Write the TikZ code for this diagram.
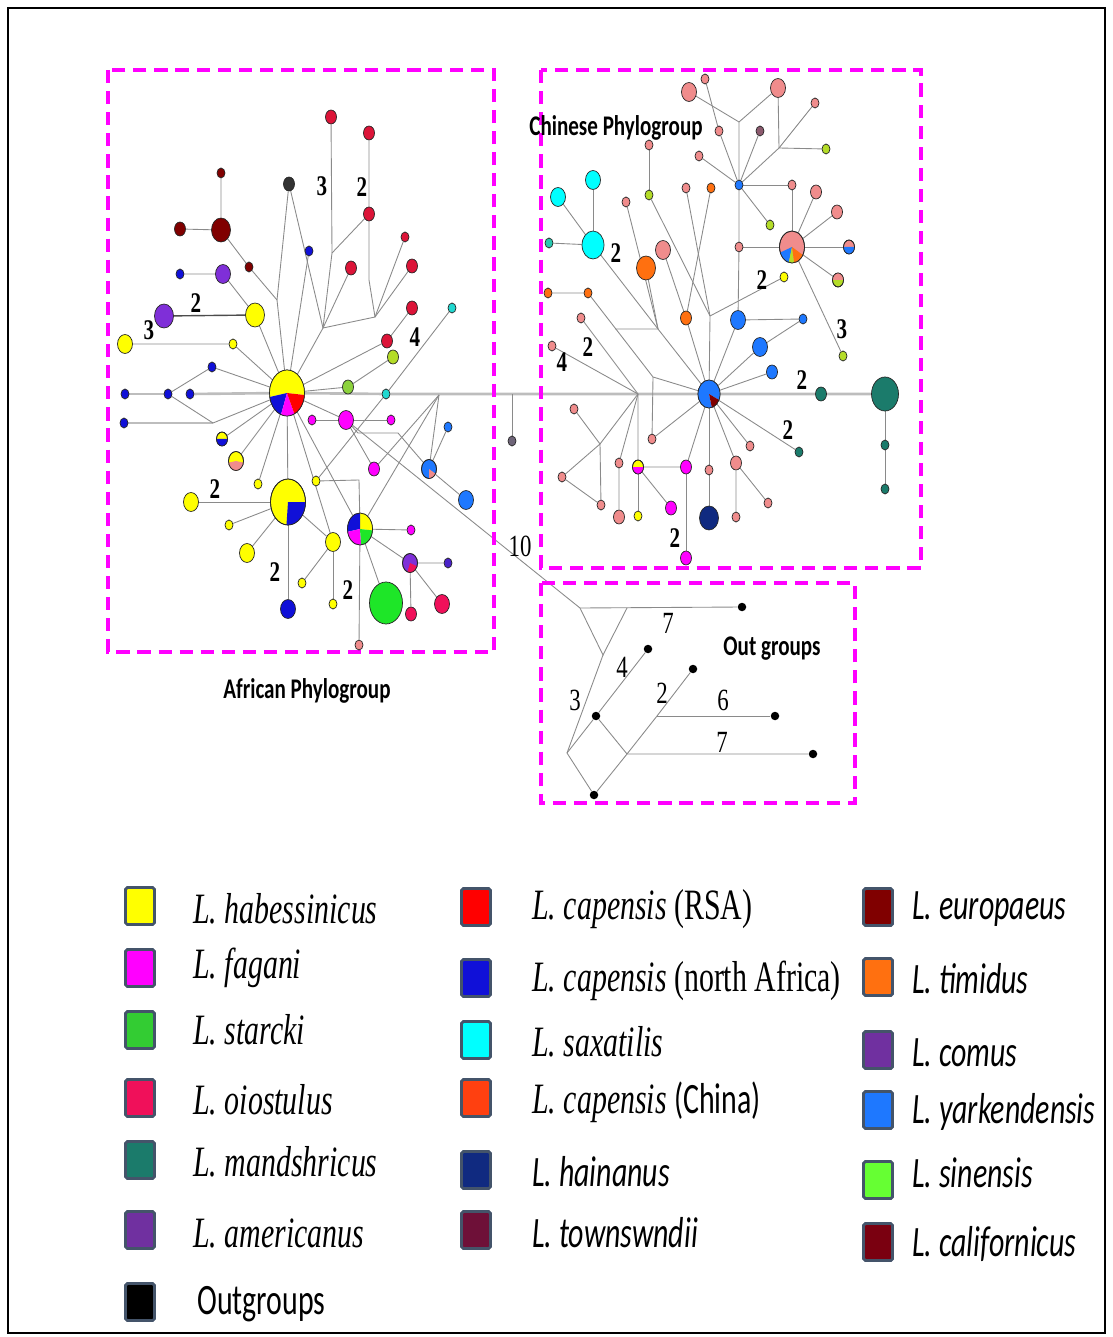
\documentclass[tikz,border=0pt]{standalone}
\usepackage{fontspec}
\usepackage{graphicx}
\setmainfont{Liberation Serif}
\newfontfamily\calibri{Carlito}
\usetikzlibrary{shapes.geometric}
\pgfdeclarelayer{background}
\pgfsetlayers{background,main}

\definecolor{habyel}{HTML}{FFFF00}
\definecolor{fagmag}{HTML}{FF00FF}
\definecolor{stagrn}{HTML}{33CC33}
\definecolor{oiored}{HTML}{F0105A}
\definecolor{mandteal}{HTML}{1B7B6B}
\definecolor{amerpur}{HTML}{7030A0}
\definecolor{caprsa}{HTML}{FF0000}
\definecolor{capna}{HTML}{1010D8}
\definecolor{saxcyan}{HTML}{00FFFF}
\definecolor{capchn}{HTML}{FF4010}
\definecolor{hainavy}{HTML}{102A80}
\definecolor{towmar}{HTML}{6E1038}
\definecolor{europ}{HTML}{800000}
\definecolor{timorg}{HTML}{FF7010}
\definecolor{comus}{HTML}{7030A0}
\definecolor{yark}{HTML}{1E78FF}
\definecolor{sinlgr}{HTML}{66FF33}
\definecolor{calif}{HTML}{7A0010}
\definecolor{redsm}{HTML}{DC1438}
\definecolor{cyansm}{HTML}{20D8D0}
\definecolor{ygreen}{HTML}{B4DC28}
\definecolor{lgreen}{HTML}{8CD23C}
\definecolor{violet2}{HTML}{7F2FD8}
\definecolor{indigo2}{HTML}{4A22C8}
\definecolor{brgreen}{HTML}{1EE628}
\definecolor{towgray}{HTML}{6E6478}
\definecolor{hapsalmon}{HTML}{F08C8C}
\definecolor{mauve}{HTML}{8C5A6E}
\definecolor{tealcyan}{HTML}{28C8B0}
\definecolor{edgegray}{HTML}{8A8A8A}
\definecolor{spinegray}{HTML}{BDBDBD}
\definecolor{pinkbox}{HTML}{FF00FF}
\definecolor{legframe}{HTML}{44546A}

\tikzset{
  hap/.style={ellipse, draw=black!85, line width=0.4pt, inner sep=0pt},
  hxs/.style={hap, minimum width=0.16cm, minimum height=0.2cm},
  hsm/.style={hap, minimum width=0.22cm, minimum height=0.28cm},
  hmd/.style={hap, minimum width=0.3cm, minimum height=0.38cm},
  hlg/.style={hap, minimum width=0.38cm, minimum height=0.48cm},
  hxl/.style={hap, minimum width=0.44cm, minimum height=0.56cm},
  hmid/.style={hap, minimum width=0.5cm, minimum height=0.64cm},
  hhub/.style={hap, minimum width=0.7cm, minimum height=0.92cm},
  outdot/.style={circle, fill=black, inner sep=0pt, minimum size=0.17cm},
  link/.style={draw=edgegray, line width=0.5pt},
  spine/.style={draw=spinegray, line width=1.5pt},
  mut/.style={font=\bfseries\fontsize{12}{14}\selectfont, inner sep=0pt},
  ogn/.style={font=\fontsize{13}{15}\selectfont, inner sep=0pt},
  grpbox/.style={draw=pinkbox, line width=2.3pt, dash pattern=on 7.5pt off 4.5pt},
  grptitle/.style={font=\calibri\bfseries\fontsize{12}{14}\selectfont, inner sep=0pt},
  legbox/.style={draw=legframe, line width=1.6pt, rounded corners=1pt, minimum width=0.58cm, minimum height=0.74cm, inner sep=0pt},
  legtxt/.style={anchor=west, font=\fontsize{17}{20}\selectfont, inner sep=0pt},
}

\newcommand{\hapslice}[6]{\fill[#2] (#1.center) -- ++(#3:#5 and #6) arc[start angle=#3, end angle=#4, x radius=#5, y radius=#6] -- cycle;}
\newcommand{\hapring}[3]{\draw[black!85, line width=0.4pt] (#1.center) ellipse [x radius=#2, y radius=#3];}
\newcommand{\tallt}[1]{\scalebox{1}[1.45]{#1}}
\newcommand{\mnum}[1]{\scalebox{1}[1.35]{#1}}

\begin{document}
\begin{tikzpicture}[x=0.02cm, y=-0.02cm]
\useasboundingbox (0,0) rectangle (1112,1337);
\draw[line width=1.2pt] (8,8) rectangle (1105,1333);

% group boxes
\draw[grpbox] (108,70) rectangle (494,652);
\draw[grpbox] (541,70) rectangle (921,568);
\draw[grpbox] (541,583) rectangle (855,803);

\node[grptitle] (tAfr) at (307,691) {\mnum{African Phylogroup}};
\node[grptitle] (tChn) at (616,128) {\mnum{Chinese Phylogroup}};
\node[grptitle] (tOut) at (772,649) {\mnum{Out groups}};

% African phylogroup
\node[hhub] (aH1) at (287,393) {};
\node[hhub, fill=habyel] (aH2) at (288,502) {};
\node[hmid] (aH3) at (360,529) {};
\node[hsm, fill=redsm] (a1) at (331,117) {};
\node[hsm, fill=redsm] (a2) at (369,133) {};
\node[hsm, fill=redsm] (a3) at (369,214) {};
\node[hxs, fill=redsm] (a4) at (405,237) {};
\node[hsm, fill=redsm] (a5) at (412,266) {};
\node[hsm, fill=redsm] (a6) at (351,268) {};
\node[hsm, fill=redsm] (a7) at (412,308) {};
\node[hsm, fill=redsm] (a8) at (387,341) {};
\node[hxs, fill=cyansm] (a9) at (452,308) {};
\node[hsm, fill=ygreen] (a10) at (393,357) {};
\node[hsm, fill=lgreen] (a11) at (348,387) {};
\node[hxs, fill=cyansm] (a12) at (386,394) {};
\node[hsm, fill=black!80] (a13) at (289,184) {};
\node[hxs, fill=capna] (a14) at (309,251) {};
\node[hxs, fill=europ] (a15) at (221,173) {};
\node[hlg, fill=europ] (a16) at (221,230) {};
\node[hsm, fill=europ] (a17) at (180,229) {};
\node[hxs, fill=europ] (a18) at (249,267) {};
\node[hmd, fill=violet2] (a19) at (223,274) {};
\node[hxs, fill=capna] (a20) at (180,274) {};
\node[hlg, fill=violet2] (a21) at (164,316) {};
\node[hlg, fill=habyel] (a22) at (255,315) {};
\node[hmd, fill=habyel] (a23) at (125,344) {};
\node[hxs, fill=habyel] (a24) at (233,344) {};
\node[hxs, fill=capna] (a25) at (212,367) {};
\node[hxs, fill=capna] (a26) at (125,394) {};
\node[hxs, fill=capna] (a27) at (168,394) {};
\node[hxs, fill=capna] (a28) at (190,394) {};
\node[hxs, fill=capna] (a29) at (124,423) {};
\node[hsm, fill=habyel] (a30) at (222,439) {};
\node[hmd, fill=habyel] (a31) at (236,461) {};
\node[hxs, fill=habyel] (a32) at (258,484) {};
\node[hxs, fill=fagmag] (a33) at (312,420) {};
\node[hmd, fill=fagmag] (a34) at (346,420) {};
\node[hxs, fill=fagmag] (a35) at (391,420) {};
\node[hxs, fill=habyel] (a36) at (316,481) {};
\node[hsm, fill=fagmag] (a37) at (374,469) {};
\node[hxs, fill=yark] (a38) at (448,427) {};
\node[hmd, fill=yark] (a39) at (429,469) {};
\node[hmd, fill=yark] (a40) at (466,500) {};
\node[hmd, fill=habyel] (a41) at (191,502) {};
\node[hxs, fill=habyel] (a42) at (229,525) {};
\node[hmd, fill=habyel] (a43) at (247,553) {};
\node[hmd, fill=capna] (a44) at (288,609) {};
\node[hmd, fill=habyel] (a45) at (333,542) {};
\node[hxs, fill=habyel] (a46) at (302,583) {};
\node[hxs, fill=habyel] (a47) at (333,604) {};
\node[hxs, fill=fagmag] (a48) at (411,530) {};
\node[hmd, fill=violet2] (a49) at (410,563) {};
\node[hxs, fill=indigo2] (a50) at (448,563) {};
\node[hap, fill=brgreen, minimum width=0.66cm, minimum height=0.84cm] (a51) at (386,603) {};
\node[hsm, fill=oiored] (a52) at (411,614) {};
\node[hmd, fill=oiored] (a53) at (442,604) {};
\node[hxs, fill=hapsalmon] (a54) at (359,645) {};
\node[hxs, fill=towgray] (a55) at (512,441) {};

\coordinate (j1) at (323,328);
\coordinate (j2) at (375,317);
\coordinate (k1) at (332,253);
\coordinate (k2) at (369,280);
\coordinate (j3) at (277,300);
\coordinate (j4) at (213,423);
\coordinate (j5) at (359,480);
\coordinate (j6) at (439,395);
\coordinate (j7) at (512,394);
\coordinate (j8) at (358,433);
\coordinate (j9) at (398,433);

% Chinese phylogroup
\node[hxl] (cH) at (709,394) {};
\node[hmid, fill=hapsalmon] (cP) at (792,247) {};
\node[hxs, fill=hapsalmon] (c1) at (705,79) {};
\node[hmd, fill=hapsalmon] (c2) at (689,92) {};
\node[hmd, fill=hapsalmon] (c3) at (778,88) {};
\node[hxs, fill=hapsalmon] (c4) at (815,103) {};
\node[hxs, fill=hapsalmon] (c5) at (719,131) {};
\node[hxs, fill=mauve] (c6) at (760,131) {};
\node[hxs, fill=ygreen] (c7) at (826,149) {};
\node[hxs, fill=hapsalmon] (c8) at (699,156) {};
\node[hxs, fill=yark] (c9) at (739,185) {};
\node[hxs, fill=hapsalmon] (c10) at (792,185) {};
\node[hxs, fill=ygreen] (c11) at (770,225) {};
\node[hxs, fill=hapsalmon] (c12) at (739,247) {};
\node[hsm, fill=hapsalmon] (c13) at (816,192) {};
\node[hsm, fill=hapsalmon] (c14) at (837,212) {};
\node[hsm, fill=hapsalmon] (c15) at (849,247) {};
\node[hsm, fill=ygreen] (c16) at (838,280) {};
\node[hxs, fill=habyel] (c17) at (784,277) {};
\node[hxs, fill=ygreen] (c18) at (843,356) {};
\node[hmd, fill=saxcyan] (c19) at (593,180) {};
\node[hmd, fill=saxcyan] (c20) at (558,197) {};
\node[hxl, fill=saxcyan] (c21) at (593,245) {};
\node[hxs, fill=tealcyan] (c22) at (549,243) {};
\node[hxs, fill=hapsalmon] (c23) at (649,145) {};
\node[hxs, fill=ygreen] (c24) at (649,195) {};
\node[hxs, fill=hapsalmon] (c25) at (626,202) {};
\node[hxs, fill=hapsalmon] (c26) at (686,188) {};
\node[hxs, fill=timorg] (c27) at (711,188) {};
\node[hmd, fill=hapsalmon] (c28) at (663,250) {};
\node[hlg, fill=timorg] (c29) at (646,268) {};
\node[hsm, fill=timorg] (c30) at (686,318) {};
\node[hxs, fill=timorg] (c31) at (548,293) {};
\node[hxs, fill=timorg] (c32) at (588,293) {};
\node[hxs, fill=hapsalmon] (c33) at (581,318) {};
\node[hxs, fill=hapsalmon] (c34) at (552,346) {};
\node[hmd, fill=yark] (c35) at (738,320) {};
\node[hxs, fill=yark] (c36) at (803,319) {};
\node[hmd, fill=yark] (c37) at (760,347) {};
\node[hsm, fill=yark] (c38) at (772,372) {};
\node[hsm, fill=mandteal] (c39) at (821,394) {};
\node[hap, fill=mandteal, minimum width=0.54cm, minimum height=0.68cm] (c40) at (885,394) {};
\node[hxs, fill=mandteal] (c41) at (885,445) {};
\node[hxs, fill=mandteal] (c42) at (885,489) {};
\node[hxs, fill=mandteal] (c43) at (799,452) {};
\node[hxs, fill=hapsalmon] (c44) at (750,446) {};
\node[hsm, fill=hapsalmon] (c45) at (736,463) {};
\node[hxs, fill=hapsalmon] (c46) at (736,517) {};
\node[hxs, fill=hapsalmon] (c47) at (768,503) {};
\node[hxs, fill=hapsalmon] (c48) at (709,470) {};
\node[hlg, fill=hainavy] (c49) at (709,518) {};
\node[hsm, fill=fagmag] (c50) at (686,467) {};
\node[hsm, fill=fagmag] (c51) at (686,558) {};
\node[hsm, fill=habyel] (c52) at (638,467) {};
\node[hxs, fill=habyel] (c53) at (638,516) {};
\node[hsm, fill=fagmag] (c54) at (671,508) {};
\node[hxs, fill=hapsalmon] (c55) at (619,463) {};
\node[hsm, fill=hapsalmon] (c56) at (619,517) {};
\node[hxs, fill=hapsalmon] (c57) at (652,439) {};
\node[hxs, fill=hapsalmon] (c58) at (574,409) {};
\node[hxs, fill=hapsalmon] (c59) at (562,477) {};
\node[hxs, fill=hapsalmon] (c60) at (601,505) {};

\coordinate (q1) at (739,122);
\coordinate (q2) at (779,148);
\coordinate (q3) at (710,316);
\coordinate (q4) at (658,329);
\coordinate (q5) at (615,329);
\coordinate (q6) at (653,377);
\coordinate (q7) at (638,394);
\coordinate (q8) at (600,444);

% out groups
\node[outdot] (ob1) at (742,607) {};
\node[outdot] (ob2) at (648,649) {};
\node[outdot] (ob3) at (596,716) {};
\node[outdot] (ob4) at (693,669) {};
\node[outdot] (ob5) at (775,716) {};
\node[outdot] (ob6) at (813,754) {};
\node[outdot] (ob7) at (594,795) {};
\coordinate (o1) at (580,608);
\coordinate (o2) at (627,608);
\coordinate (o3) at (603,655);
\coordinate (o4) at (657,716);
\coordinate (o5) at (627,754);
\coordinate (o6) at (567,753);

\begin{pgfonlayer}{background}
\draw[spine] (aH1) -- (a12) -- (q7) -- (cH) -- (c39) -- (c40);
\draw[spine] (a28) -- (aH1);
\draw[spine] (a26) -- (a27);
\draw[spine] (a29) -- (j4);
\draw[link] (aH1) -- (j1) -- (k1) -- (a1);
\draw[link] (k1) -- (a3);
\draw[link] (j1) -- (a6);
\draw[link] (j1) -- (j2) -- (k2) -- (a2);
\draw[link] (j2) -- (a4);
\draw[link] (j2) -- (a5);
\draw[link] (a13) -- (j3) -- (aH1);
\draw[link] (a13) -- (j1);
\draw[link] (j3) -- (a18) -- (a16) -- (a15);
\draw[link] (a17) -- (a16);
\draw[link] (a14) -- (aH1);
\draw[link] (a20) -- (a19) -- (a22) -- (aH1);
\draw[link, draw=black!70, line width=0.8pt] (a21) -- (a22);
\draw[link] (a23) -- (a24) -- (aH1);
\draw[link] (aH1) -- (a8) -- (a7);
\draw[link] (aH1) -- (a11) -- (a10);
\draw[link] (a9) -- (a12) -- (a36);
\draw[link] (aH1) -- (a25) -- (a27) -- (j4) -- (aH1);
\draw[link] (aH1) -- (a30);
\draw[link] (aH1) -- (a31);
\draw[link] (aH1) -- (a32);
\draw[link] (aH1) -- (aH2);
\draw[link] (a33) -- (a34) -- (a35);
\draw[link] (aH1) -- (a34) -- (a37);
\draw[link] (aH1) -- (a45);
\draw[link] (aH1) -- (aH3);
\draw[link] (aH2) -- (a41);
\draw[link] (aH2) -- (a42);
\draw[link] (aH2) -- (a43);
\draw[link] (aH2) -- (a44);
\draw[link] (aH2) -- (a45) -- (a46);
\draw[link] (a45) -- (a47);
\draw[link] (a36) -- (j5) -- (aH3) -- (a54);
\draw[link] (j6) -- (aH3);
\draw[link] (j6) -- (a37);
\draw[link] (j6) -- (a39);
\draw[link] (a34) -- (j8) -- (j9) -- (a39) -- (a40);
\draw[link] (a39) -- (a38);
\draw[link] (aH3) -- (a48);
\draw[link] (aH3) -- (a51);
\draw[link] (aH3) -- (a49) -- (a50);
\draw[link] (a49) -- (a52);
\draw[link] (a49) -- (a53);
\draw[link] (a55) -- (j7);
% Chinese links
\draw[link] (c2) -- (q1) -- (c9);
\draw[link] (c3) -- (q1);
\draw[link] (c3) -- (q2) -- (c9);
\draw[link] (c4) -- (q2) -- (c7);
\draw[link] (c1) -- (c5) -- (c9);
\draw[link] (c6) -- (c9);
\draw[link] (c8) -- (c9);
\draw[link] (c9) -- (c10) -- (cP);
\draw[link] (c9) -- (c11);
\draw[link] (c9) -- (c12) -- (c35) -- (cH);
\draw[link] (c12) -- (cP);
\draw[link] (cP) -- (c13);
\draw[link] (cP) -- (c14);
\draw[link] (cP) -- (c15);
\draw[link] (cP) -- (c16);
\draw[link] (cP) -- (c18);
\draw[link] (c35) -- (c36) -- (c37) -- (cH);
\draw[link] (c38) -- (cH);
\draw[link] (q3) -- (cH);
\draw[link] (q3) -- (c17);
\draw[link] (c26) -- (q3);
\draw[link] (c24) -- (q3);
\draw[link] (c23) -- (c24);
\draw[link] (c27) -- (c30) -- (cH);
\draw[link] (c28) -- (c30);
\draw[link] (c19) -- (c21);
\draw[link] (c20) -- (c21);
\draw[link] (c22) -- (c21);
\draw[link] (c21) -- (q4) -- (cH);
\draw[link] (c29) -- (q4);
\draw[link] (c25) -- (q4) -- (q5);
\draw[link] (c31) -- (c32) -- (q6) -- (cH);
\draw[link] (q6) -- (c57) -- (cH);
\draw[link] (c33) -- (q7);
\draw[link] (c34) -- (q7);
\draw[link] (q7) -- (c55) -- (c56);
\draw[link] (q7) -- (c52) -- (c50) -- (cH);
\draw[link] (c52) -- (c53);
\draw[link] (c52) -- (c54);
\draw[link] (c50) -- (c51);
\draw[link] (q7) -- (q8) -- (c58);
\draw[link] (q8) -- (c59) -- (c60) -- (q8);
\draw[link] (cH) -- (c48) -- (c49);
\draw[link] (cH) -- (c45) -- (c46);
\draw[link] (c45) -- (c47);
\draw[link] (cH) -- (c44);
\draw[link] (cH) -- (c43);
\draw[link] (c40) -- (c41) -- (c42);
% out group links
\draw[link] (a34) -- (o1) -- (ob1);
\draw[link] (o1) -- (o3) -- (o2);
\draw[link] (o3) -- (o6) -- (ob7);
\draw[link] (ob2) -- (ob3) -- (o6);
\draw[link] (ob3) -- (o5) -- (ob6);
\draw[link] (ob4) -- (o4) -- (o5) -- (ob7);
\draw[link] (o4) -- (ob5);
\end{pgfonlayer}

% pie haplotypes
\hapslice{aH1}{habyel}{-5}{190}{0.35cm}{0.46cm}
\hapslice{aH1}{capna}{190}{250}{0.35cm}{0.46cm}
\hapslice{aH1}{fagmag}{250}{295}{0.35cm}{0.46cm}
\hapslice{aH1}{caprsa}{295}{355}{0.35cm}{0.46cm}
\hapring{aH1}{0.35cm}{0.46cm}
\hapslice{aH2}{capna}{-95}{0}{0.35cm}{0.46cm}
\hapring{aH2}{0.35cm}{0.46cm}
\hapslice{aH3}{habyel}{-5}{90}{0.25cm}{0.32cm}
\hapslice{aH3}{capna}{90}{190}{0.25cm}{0.32cm}
\hapslice{aH3}{fagmag}{190}{275}{0.25cm}{0.32cm}
\hapslice{aH3}{brgreen}{275}{355}{0.25cm}{0.32cm}
\hapring{aH3}{0.25cm}{0.32cm}
\hapslice{a30}{capna}{180}{360}{0.11cm}{0.14cm}
\hapring{a30}{0.11cm}{0.14cm}
\hapslice{a31}{hapsalmon}{190}{350}{0.15cm}{0.19cm}
\hapring{a31}{0.15cm}{0.19cm}
\hapslice{a39}{hapsalmon}{270}{330}{0.15cm}{0.19cm}
\hapring{a39}{0.15cm}{0.19cm}
\hapslice{a49}{oiored}{250}{340}{0.15cm}{0.19cm}
\hapring{a49}{0.15cm}{0.19cm}
\hapslice{cH}{yark}{-25}{285}{0.22cm}{0.28cm}
\hapslice{cH}{europ}{285}{335}{0.22cm}{0.28cm}
\hapring{cH}{0.22cm}{0.28cm}
\hapslice{cP}{yark}{200}{255}{0.25cm}{0.32cm}
\hapslice{cP}{ygreen}{255}{280}{0.25cm}{0.32cm}
\hapslice{cP}{timorg}{280}{330}{0.25cm}{0.32cm}
\hapring{cP}{0.25cm}{0.32cm}
\hapslice{c15}{yark}{180}{360}{0.11cm}{0.14cm}
\hapring{c15}{0.11cm}{0.14cm}
\hapslice{c16}{hapsalmon}{0}{180}{0.11cm}{0.14cm}
\hapring{c16}{0.11cm}{0.14cm}
\hapslice{c52}{fagmag}{180}{360}{0.11cm}{0.14cm}
\hapring{c52}{0.11cm}{0.14cm}

% mutation counts
\node[mut] (m1) at (322,186) {\mnum{3}};
\node[mut] (m2) at (362,187) {\mnum{2}};
\node[mut] (m3) at (196,303) {\mnum{2}};
\node[mut] (m4) at (149,330) {\mnum{3}};
\node[mut] (m5) at (415,337) {\mnum{4}};
\node[mut] (m6) at (215,489) {\mnum{2}};
\node[mut] (m7) at (275,572) {\mnum{2}};
\node[mut] (m8) at (348,590) {\mnum{2}};
\node[mut] (m9) at (616,253) {\mnum{2}};
\node[mut] (m10) at (762,280) {\mnum{2}};
\node[mut] (m11) at (842,329) {\mnum{3}};
\node[mut] (m12) at (588,347) {\mnum{2}};
\node[mut] (m13) at (562,362) {\mnum{4}};
\node[mut] (m14) at (802,380) {\mnum{2}};
\node[mut] (m15) at (788,430) {\mnum{2}};
\node[mut] (m16) at (675,538) {\mnum{2}};
\node[ogn] (n1) at (520,546) {\mnum{10}};
\node[ogn] (n2) at (668,623) {\mnum{7}};
\node[ogn] (n3) at (622,667) {\mnum{4}};
\node[ogn] (n4) at (575,700) {\mnum{3}};
\node[ogn] (n5) at (662,693) {\mnum{2}};
\node[ogn] (n6) at (723,700) {\mnum{6}};
\node[ogn] (n7) at (722,742) {\mnum{7}};

% legend
\node[legbox, fill=habyel] (sq1) at (140,906) {};
\node[legbox, fill=fagmag] (sq2) at (140,968) {};
\node[legbox, fill=stagrn] (sq3) at (140,1030) {};
\node[legbox, fill=oiored] (sq4) at (140,1098) {};
\node[legbox, fill=mandteal] (sq5) at (140,1160) {};
\node[legbox, fill=amerpur] (sq6) at (140,1230) {};
\node[legbox, fill=black] (sq7) at (140,1302) {};
\node[legbox, fill=caprsa] (sq8) at (476,907) {};
\node[legbox, fill=capna] (sq9) at (476,978) {};
\node[legbox, fill=saxcyan] (sq10) at (476,1040) {};
\node[legbox, fill=capchn] (sq11) at (476,1098) {};
\node[legbox, fill=hainavy] (sq12) at (476,1170) {};
\node[legbox, fill=towmar] (sq13) at (476,1230) {};
\node[legbox, fill=europ] (sq14) at (878,907) {};
\node[legbox, fill=timorg] (sq15) at (878,977) {};
\node[legbox, fill=comus] (sq16) at (878,1050) {};
\node[legbox, fill=yark] (sq17) at (878,1110) {};
\node[legbox, fill=sinlgr] (sq18) at (878,1180) {};
\node[legbox, fill=calif] (sq19) at (878,1242) {};

\node[legtxt] (lt1) at (193,909) {\tallt{\textit{L. habessinicus}}};
\node[legtxt] (lt2) at (193,968) {\tallt{\textit{L. fagani}}};
\node[legtxt] (lt3) at (193,1030) {\tallt{\textit{L. starcki}}};
\node[legtxt] (lt4) at (193,1100) {\tallt{\textit{L. oiostulus}}};
\node[legtxt] (lt5) at (193,1162) {\tallt{\textit{L. mandshricus}}};
\node[legtxt] (lt6) at (193,1233) {\tallt{\textit{L. americanus}}};
\node[legtxt] (lt7) at (197,1304) {\tallt{\calibri Outgroups}};
\node[legtxt] (lt8) at (532,909) {\tallt{\textit{L. capensis} (RSA)}};
\node[legtxt] (lt9) at (532,981) {\tallt{\textit{L. capensis} (north Africa)}};
\node[legtxt] (lt10) at (532,1042) {\tallt{\textit{L. saxatilis}}};
\node[legtxt] (lt11) at (532,1102) {\tallt{\textit{L. capensis} {\calibri (China)}}};
\node[legtxt] (lt12) at (532,1172) {\tallt{\calibri\itshape L. hainanus}};
\node[legtxt] (lt13) at (532,1233) {\tallt{\calibri\itshape L. townswndii}};
\node[legtxt] (lt14) at (912,909) {\tallt{\calibri\itshape L. europaeus}};
\node[legtxt] (lt15) at (912,979) {\tallt{\calibri\itshape L. timidus}};
\node[legtxt] (lt16) at (912,1053) {\tallt{\calibri\itshape L. comus}};
\node[legtxt] (lt17) at (912,1112) {\tallt{\calibri\itshape L. yarkendensis}};
\node[legtxt] (lt18) at (912,1173) {\tallt{\calibri\itshape L. sinensis}};
\node[legtxt] (lt19) at (912,1244) {\tallt{\calibri\itshape L. californicus}};
\end{tikzpicture}
\end{document}
